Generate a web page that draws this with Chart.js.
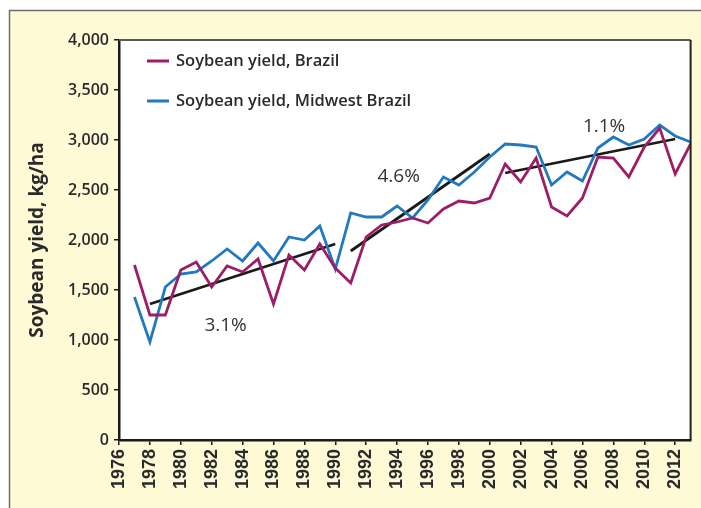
<!DOCTYPE html>
<html>
<head>
<meta charset="utf-8">
<script src="https://cdn.jsdelivr.net/npm/chart.js@4.4.1/dist/chart.umd.min.js"></script>
<style>
  html, body { margin: 0; padding: 0; background: #ffffff; }
  #wrap { position: relative; width: 701px; height: 508px; }
</style>
</head>
<body>
<div id="wrap"><canvas id="c" width="701" height="508"></canvas></div>
<script>
// ---- Data ----
const years = [1977,1978,1979,1980,1981,1982,1983,1984,1985,1986,1987,1988,1989,1990,
               1991,1992,1993,1994,1995,1996,1997,1998,1999,2000,
               2001,2002,2003,2004,2005,2006,2007,2008,2009,2010,2011,2012,2013];
const brazil = [1750,1250,1250,1700,1780,1530,1740,1680,1810,1360,1850,1700,1960,1720,
                1570,2030,2150,2180,2220,2170,2310,2390,2370,2420,
                2760,2580,2820,2330,2240,2420,2830,2820,2630,2930,3120,2660,2960];
const midwest = [1430,980,1530,1660,1680,1790,1910,1790,1970,1790,2030,2000,2140,1710,
                 2270,2230,2230,2340,2220,2400,2630,2550,2680,2830,
                 2960,2950,2930,2550,2680,2590,2920,3030,2950,3010,3150,3040,2980];
const trendYears1 = [1978, 1990];
const trendValues1 = [1360, 1960];
const trendYears2 = [1991, 2000];
const trendValues2 = [1890, 2860];
const trendYears3 = [2001, 2012];
const trendValues3 = [2670, 3010];
const trendLabels = ['3.1%', '4.6%', '1.1%'];
const trendLabelYears = [1982.9, 1994.1, 2007.4];
const trendLabelValues = [1140, 2630, 3130];
const seriesNames = ['Soybean yield, Brazil', 'Soybean yield, Midwest Brazil'];
const xTickStart = 1976, xTickEnd = 2012, xTickStep = 2;
const yTickMax = 4000, yTickStep = 500;
const yTitle = 'Soybean yield, kg/ha';

const MAGENTA = '#9c1f65';
const BLUE = '#2279c0';
const CREAM = '#fffad6';

const pts = (xs, ys) => xs.map((x, i) => ({ x: x, y: ys[i] }));

const framePlugin = {
  id: 'frame',
  beforeDraw(chart) {
    const ctx = chart.ctx, a = chart.chartArea;
    ctx.save();
    ctx.fillStyle = '#ffffff';
    ctx.fillRect(0, 0, chart.width, chart.height);
    ctx.fillStyle = CREAM;
    ctx.fillRect(9, 10, chart.width, chart.height);
    ctx.strokeStyle = '#6e6e6e';
    ctx.lineWidth = 1.5;
    ctx.beginPath();
    ctx.moveTo(9.5, chart.height + 2);
    ctx.lineTo(9.5, 10.5);
    ctx.lineTo(chart.width + 2, 10.5);
    ctx.stroke();
    ctx.fillStyle = '#ffffff';
    ctx.fillRect(a.left, a.top, a.right - a.left, a.bottom - a.top);
    ctx.restore();
  },
  afterDatasetsDraw(chart) {
    const ctx = chart.ctx, a = chart.chartArea;
    const xs = chart.scales.x, ys = chart.scales.y;
    ctx.save();
    // top and right plot borders
    ctx.strokeStyle = '#5a5a5a';
    ctx.lineWidth = 2;
    ctx.beginPath();
    ctx.moveTo(a.left, a.top);
    ctx.lineTo(a.right, a.top);
    ctx.stroke();
    ctx.strokeStyle = '#222';
    ctx.beginPath();
    ctx.moveTo(a.right, a.top);
    ctx.lineTo(a.right, a.bottom);
    ctx.stroke();
    // trend annotations
    ctx.fillStyle = '#333';
    ctx.font = '500 19px "Open Sans"';
    ctx.textAlign = 'center';
    ctx.textBaseline = 'middle';
    trendLabels.forEach((t, i) => {
      ctx.fillText(t, xs.getPixelForValue(trendLabelYears[i]), ys.getPixelForValue(trendLabelValues[i]));
    });
    // legend
    const colors = [MAGENTA, BLUE];
    ctx.font = '600 16.5px "Open Sans"';
    ctx.textAlign = 'left';
    seriesNames.forEach((n, i) => {
      const y = a.top + 21 + i * 40;
      ctx.strokeStyle = colors[i];
      ctx.lineWidth = 3;
      ctx.beginPath();
      ctx.moveTo(a.left + 28, y);
      ctx.lineTo(a.left + 50, y);
      ctx.stroke();
      ctx.fillStyle = '#2a2a2a';
      ctx.fillText(n, a.left + 57, y);
    });
    ctx.restore();
  }
};

const lineDs = (label, data, color, width) => ({
  label: label, data: data, borderColor: color, backgroundColor: color,
  borderWidth: width, pointRadius: 0, tension: 0, fill: false
});

new Chart(document.getElementById('c'), {
  type: 'line',
  data: {
    datasets: [
      lineDs(seriesNames[0], pts(years, brazil), MAGENTA, 2.8),
      lineDs(seriesNames[1], pts(years, midwest), BLUE, 2.8),
      lineDs('trend1', pts(trendYears1, trendValues1), '#1a1a1a', 2.8),
      lineDs('trend2', pts(trendYears2, trendValues2), '#1a1a1a', 2.8),
      lineDs('trend3', pts(trendYears3, trendValues3), '#1a1a1a', 2.8)
    ]
  },
  options: {
    responsive: false,
    animation: false,
    layout: { padding: { left: 0, top: 40, right: 9, bottom: 0 } },
    plugins: { legend: { display: false }, tooltip: { enabled: false } },
    scales: {
      x: {
        type: 'linear',
        min: xTickStart,
        max: xTickEnd + 1,
        afterFit(s) { s.height = 68; },
        afterBuildTicks(s) {
          const t = [];
          for (let v = xTickStart; v <= xTickEnd; v += xTickStep) t.push({ value: v });
          s.ticks = t;
        },
        border: { display: true, color: '#1a1a1a', width: 2.5 },
        grid: { display: true, drawOnChartArea: false, drawTicks: true, tickLength: 5, color: '#1a1a1a', lineWidth: 1.5 },
        ticks: {
          autoSkip: false, maxRotation: 90, minRotation: 90, padding: 4,
          color: '#2a2a2a',
          font: { family: '"Liberation Sans", Arial', size: 18, weight: 'bold' },
          callback: v => String(v)
        }
      },
      y: {
        min: 0,
        max: yTickMax,
        afterFit(s) { s.width = 119; },
        border: { display: true, color: '#1a1a1a', width: 2.5 },
        grid: { display: true, drawOnChartArea: false, drawTicks: true, tickLength: 5, color: '#1a1a1a', lineWidth: 1.5 },
        ticks: {
          stepSize: yTickStep, padding: 5,
          color: '#2a2a2a',
          font: { family: '"Open Sans"', size: 16, weight: '600' },
          callback: v => v.toLocaleString('en-US')
        },
        title: {
          display: true, text: yTitle, color: '#2a2a2a',
          font: { family: '"Open Sans"', size: 19, weight: 'bold' },
          padding: { top: 26, bottom: 0 }
        }
      }
    }
  },
  plugins: [framePlugin]
});
</script>
</body>
</html>
